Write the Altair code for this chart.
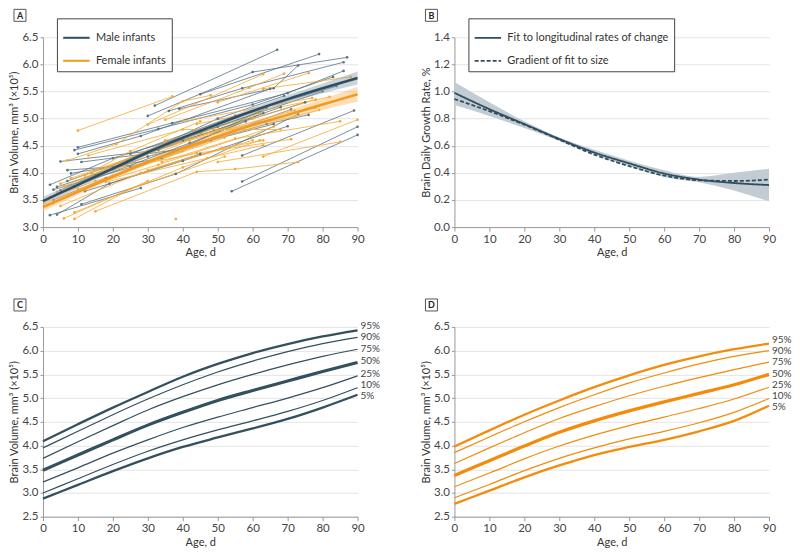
import altair as alt
import pandas as pd

FONT = "Lato"
MALE_C = "#2e4d5f"
FEMALE_C = "#f39a1e"

ages = [0, 10, 20, 30, 40, 50, 60, 70, 80, 90]

# ---- Panel A: mean fits with CI
male_mean = [3.48, 3.78, 4.08, 4.38, 4.65, 4.90, 5.14, 5.36, 5.56, 5.75]
male_half = [0.08, 0.06, 0.05, 0.05, 0.05, 0.05, 0.06, 0.07, 0.09, 0.12]
female_mean = [3.37, 3.65, 3.93, 4.20, 4.45, 4.67, 4.88, 5.07, 5.26, 5.45]
female_half = [0.08, 0.06, 0.05, 0.05, 0.05, 0.06, 0.07, 0.08, 0.10, 0.14]

# ---- Panel A: individual trajectories (age, volume)
male_traj = [
    [(32, 5.24), (67, 6.27)],
    [(45, 5.45), (79, 6.19)],
    [(30, 5.05), (60, 5.86), (87, 6.13)],
    [(39, 5.18), (66, 5.56), (73, 5.98)],
    [(36, 5.14), (57, 5.56), (86, 6.04)],
    [(10, 4.47), (37, 4.92), (70, 5.47), (86, 5.88)],
    [(9, 4.42), (33, 4.81), (60, 5.26), (83, 5.77)],
    [(10, 4.35), (28, 4.68), (65, 5.55)],
    [(11, 4.20), (38, 4.42), (64, 4.90), (76, 5.07)],
    [(5, 4.21), (33, 4.42), (68, 5.21)],
    [(8, 3.99), (34, 4.27), (64, 5.20)],
    [(7, 4.05), (28, 4.15), (63, 5.10)],
    [(2, 3.78), (20, 4.27), (50, 4.85)],
    [(3, 3.69), (25, 4.10), (71, 5.17)],
    [(4, 3.74), (30, 4.30), (66, 4.90)],
    [(12, 3.66), (40, 4.22), (70, 4.86)],
    [(11, 3.42), (38, 3.98), (73, 5.08)],
    [(2, 3.22), (28, 3.72)],
    [(4, 3.23), (19, 3.80), (45, 4.35)],
    [(54, 3.66), (90, 4.70)],
    [(57, 3.84), (90, 4.85)],
    [(57, 4.32), (89, 5.15)],
    [(5, 3.68), (35, 4.52), (62, 5.12)],
    [(7, 3.85), (40, 4.60), (75, 5.30)],
    [(15, 3.95), (45, 4.75), (80, 5.50)],
    [(20, 4.10), (50, 5.00), (69, 5.42)],
    [(3, 3.50), (18, 3.90), (48, 4.60)],
    [(9, 3.75), (42, 4.55), (58, 4.95)],
    [(25, 4.35), (55, 5.05), (84, 5.60)],
]
female_traj = [
    [(10, 4.78), (37, 5.41)],
    [(7, 4.23), (21, 4.53), (40, 5.32), (48, 5.43)],
    [(30, 4.89), (63, 5.82)],
    [(35, 4.98), (59, 5.57), (69, 5.83)],
    [(50, 5.30), (76, 5.84)],
    [(63, 5.55), (88, 5.77)],
    [(40, 4.95), (77, 5.38)],
    [(44, 4.90), (82, 5.40)],
    [(35, 4.60), (71, 5.02), (79, 5.16)],
    [(13, 4.32), (40, 4.80), (68, 4.80)],
    [(14, 3.98), (44, 4.36), (71, 4.62)],
    [(18, 3.83), (47, 4.27), (63, 4.51)],
    [(30, 4.05), (51, 4.45), (63, 4.60)],
    [(34, 4.20), (55, 4.63), (85, 4.95)],
    [(15, 3.29), (44, 4.02), (55, 4.07), (73, 4.20)],
    [(63, 4.30), (90, 4.98)],
    [(50, 4.20), (85, 4.57)],
    [(6, 3.16), (30, 3.85)],
    [(9, 3.15), (25, 3.70), (52, 4.30)],
    [(3, 3.44), (20, 3.95), (52, 4.65)],
    [(5, 3.39), (28, 4.00), (60, 4.60)],
    [(9, 3.27), (40, 4.10), (62, 4.60)],
    [(7, 3.59), (33, 4.25), (55, 4.75)],
    [(4, 3.65), (22, 4.20), (50, 4.90)],
    [(6, 3.75), (30, 4.40), (62, 5.10)],
    [(8, 3.90), (35, 4.50), (72, 5.15)],
    [(12, 3.95), (25, 4.40), (45, 4.95)],
    [(2, 3.55), (15, 3.85), (40, 4.40)],
    [(20, 4.05), (42, 4.60), (78, 5.20)],
    [(25, 4.25), (60, 5.00), (78, 5.35)],
    [(10, 3.70), (33, 4.15), (66, 4.85)],
    [(38, 3.15)],
    [(5, 3.80), (18, 4.10), (35, 4.55)],
]

# ---- Panel B
rate_fit = [0.99, 0.87, 0.76, 0.65, 0.55, 0.47, 0.395, 0.35, 0.325, 0.31]
rate_grad = [0.945, 0.855, 0.755, 0.645, 0.535, 0.45, 0.38, 0.345, 0.34, 0.35]
rate_lo = [0.90, 0.82, 0.73, 0.635, 0.535, 0.45, 0.37, 0.33, 0.27, 0.19]
rate_hi = [1.07, 0.92, 0.78, 0.66, 0.57, 0.49, 0.42, 0.37, 0.40, 0.43]

# ---- Panels C, D: percentile curves
pct_labels = ["95%", "90%", "75%", "50%", "25%", "10%", "5%"]
male_pct = [
    [4.09, 4.45, 4.80, 5.13, 5.45, 5.72, 5.95, 6.14, 6.30, 6.43],
    [3.95, 4.30, 4.65, 4.98, 5.28, 5.55, 5.78, 5.98, 6.15, 6.28],
    [3.73, 4.08, 4.42, 4.75, 5.03, 5.28, 5.50, 5.70, 5.88, 6.03],
    [3.48, 3.80, 4.12, 4.43, 4.70, 4.95, 5.16, 5.36, 5.56, 5.75],
    [3.23, 3.53, 3.84, 4.12, 4.38, 4.60, 4.80, 5.00, 5.22, 5.47],
    [3.00, 3.30, 3.60, 3.88, 4.12, 4.33, 4.52, 4.72, 4.95, 5.22],
    [2.88, 3.17, 3.46, 3.73, 3.97, 4.17, 4.36, 4.56, 4.80, 5.07],
]
female_pct = [
    [3.98, 4.32, 4.65, 4.95, 5.23, 5.48, 5.70, 5.88, 6.03, 6.15],
    [3.85, 4.18, 4.50, 4.80, 5.07, 5.32, 5.53, 5.72, 5.88, 6.00],
    [3.62, 3.95, 4.27, 4.57, 4.82, 5.05, 5.25, 5.43, 5.60, 5.76],
    [3.37, 3.68, 3.99, 4.28, 4.52, 4.73, 4.92, 5.10, 5.28, 5.50],
    [3.13, 3.42, 3.72, 3.99, 4.22, 4.42, 4.60, 4.78, 4.98, 5.23],
    [2.90, 3.18, 3.47, 3.73, 3.95, 4.14, 4.30, 4.48, 4.70, 4.99],
    [2.77, 3.05, 3.33, 3.58, 3.80, 3.97, 4.12, 4.30, 4.52, 4.84],
]

W, H = 315, 190
GAP_X, GAP_Y = 97, 100
VOL_TITLE = "Brain Volume, mm\u00b3 (\u00d710\u2075)"
SEX = ["Male infants", "Female infants"]
X_TICKS = list(range(0, 91, 10))

x_enc = alt.X("age:Q", scale=alt.Scale(domain=[0, 90], nice=False),
              axis=alt.Axis(values=X_TICKS, tickCount=len(X_TICKS), grid=False, title="Age, d",
                            tickSize=4, labelOverlap=False, labelFlush=False))


def y_axis(vals, title):
    return alt.Axis(values=vals, tickCount=len(vals), format=".1f", title=title, tickSize=3,
                    grid=True, labelOverlap=False, labelFlush=False)


def badge(letter):
    d = pd.DataFrame({"t": [letter]})
    box = alt.Chart(d).mark_rect(fill="white", stroke="#555", strokeWidth=1).encode(
        x=alt.value(-29), x2=alt.value(-17), y=alt.value(-28), y2=alt.value(-16))
    txt = alt.Chart(d).mark_text(fontWeight="bold", fontSize=9, color="#222",
                                 baseline="middle", align="center").encode(
        x=alt.value(-23), y=alt.value(-21.5), text="t:N")
    return box, txt


def legend_at(x, y, **kw):
    return alt.Legend(title=None, orient="none", legendX=x, legendY=y,
                      symbolType="stroke", symbolSize=700, strokeColor="#444",
                      fillColor="white", padding=5, labelFontSize=11, labelColor="#333",
                      rowPadding=3, labelOffset=5, labelLimit=400, **kw)


# ---------- Panel A
rows = []
for sex, trajs in (("Male infants", male_traj), ("Female infants", female_traj)):
    for i, tr in enumerate(trajs):
        for a, v in tr:
            rows.append({"id": f"{sex}{i}", "sex": sex, "age": a, "vol": v})
traj_df = pd.DataFrame(rows)

mrows = []
for sex, m, h in (("Male infants", male_mean, male_half), ("Female infants", female_mean, female_half)):
    for a, mv, hv in zip(ages, m, h):
        mrows.append({"sex": sex, "age": a, "vol": mv, "lo": mv - hv, "hi": mv + hv})
mean_df = pd.DataFrame(mrows)

yA = alt.Y("vol:Q", scale=alt.Scale(domain=[3, 6.5], nice=False, zero=False),
           axis=y_axis([3.0, 3.5, 4.0, 4.5, 5.0, 5.5, 6.0, 6.5], VOL_TITLE))
col_scale = alt.Scale(domain=SEX, range=[MALE_C, FEMALE_C])
ind_scale = alt.Scale(domain=SEX, range=["#587485", "#f6a934"])

traj_lines = alt.Chart(traj_df).mark_line(strokeWidth=1, opacity=0.8).encode(
    x=x_enc, y=yA, detail="id:N",
    color=alt.Color("sex:N", scale=ind_scale, legend=None), order="age:Q")
traj_pts = alt.Chart(traj_df).mark_circle(size=7, opacity=1).encode(
    x="age:Q", y="vol:Q", color=alt.Color("sex:N", scale=ind_scale, legend=None))
bands = alt.Chart(mean_df).mark_area(opacity=0.45, interpolate="monotone").encode(
    x="age:Q", y="lo:Q", y2="hi:Q",
    fill=alt.Fill("sex:N", scale=alt.Scale(domain=SEX, range=["#8a9eab", "#f8b860"]), legend=None),
    detail="sex:N")
means = alt.Chart(mean_df).mark_line(strokeWidth=2.5, interpolate="monotone").encode(
    x="age:Q", y="vol:Q",
    color=alt.Color("sex:N", scale=col_scale, sort=SEX,
                    legend=legend_at(14, -19, symbolStrokeWidth=2)))
bA = badge("A")
panelA = alt.layer(traj_lines, traj_pts, bands, means, bA[0], bA[1]).resolve_scale(
    color="independent").properties(width=W, height=H)

# ---------- Panel B
FIT = "Fit to longitudinal rates of change"
GRAD = "Gradient of fit to size"
b_df = pd.DataFrame({"age": ages * 2, "rate": rate_fit + rate_grad,
                     "kind": [FIT] * 10 + [GRAD] * 10})
band_df = pd.DataFrame({"age": ages, "lo": rate_lo, "hi": rate_hi})
B_TICKS = [0.0, 0.2, 0.4, 0.6, 0.8, 1.0, 1.2, 1.4]
b_band = alt.Chart(band_df).mark_area(color="#c3ccd3", opacity=1, interpolate="monotone").encode(
    x=x_enc, y=alt.Y("lo:Q", scale=alt.Scale(domain=[0, 1.4], nice=False),
                     axis=y_axis(B_TICKS, "Brain Daily Growth Rate, %")),
    y2="hi:Q")
b_lines = alt.Chart(b_df).mark_line(color=MALE_C, strokeWidth=1.8, interpolate="monotone").encode(
    x="age:Q", y="rate:Q",
    strokeDash=alt.StrokeDash("kind:N", scale=alt.Scale(domain=[FIT, GRAD], range=[[1, 0], [4, 2]]),
                              legend=legend_at(W + GAP_X + 14, -19, symbolStrokeWidth=1.8,
                                               symbolStrokeColor=MALE_C)))
bB = badge("B")
panelB = alt.layer(b_band, b_lines, bB[0], bB[1]).properties(width=W, height=H)


# ---------- Panels C, D
DY_C = {"95%": -3.8, "90%": 0.0, "75%": -0.5, "50%": -1.2, "25%": -1.9, "10%": -2.8, "5%": 1.1}
DY_D = {"95%": -3.1, "90%": 0.75, "75%": 0.35, "50%": -0.5, "25%": -1.8, "10%": -2.2, "5%": 1.65}
THICK = {"95%": 2.3, "90%": 1.2, "75%": 1.2, "50%": 3.2, "25%": 1.2, "10%": 1.2, "5%": 2.3}
C_TICKS = [2.5, 3.0, 3.5, 4.0, 4.5, 5.0, 5.5, 6.0, 6.5]


def pct_panel(values, color, letter, dys):
    r = []
    for lab, vals in zip(pct_labels, values):
        for a, v in zip(ages, vals):
            r.append({"pct": lab, "age": a, "vol": v})
    df = pd.DataFrame(r)
    yC = alt.Y("vol:Q", scale=alt.Scale(domain=[2.5, 6.5], nice=False, zero=False),
               axis=y_axis(C_TICKS, VOL_TITLE))
    base = alt.Chart(df)
    layers = []
    first = True
    for lab in pct_labels:
        ln = base.mark_line(color=color, interpolate="monotone", strokeWidth=THICK[lab]).encode(
            x=x_enc if first else "age:Q", y=yC if first else "vol:Q").transform_filter(
            alt.datum.pct == lab)
        first = False
        layers.append(ln)
    for lab in pct_labels:
        tx = base.mark_text(align="left", dx=3, dy=dys[lab], fontSize=10, color="#444",
                            baseline="middle").encode(
            x="age:Q", y="vol:Q", text="pct:N").transform_filter(
            (alt.datum.pct == lab) & (alt.datum.age == 90))
        layers.append(tx)
    b = badge(letter)
    return alt.layer(*layers, b[0], b[1]).properties(width=W, height=H)


panelC = pct_panel(male_pct, "#33505f", "C", DY_C)
panelD = pct_panel(female_pct, "#f28c0a", "D", DY_D)

chart = alt.concat(panelA, panelB, panelC, panelD, columns=2,
                   spacing={"row": GAP_Y, "column": GAP_X}, bounds="flush").properties(
    padding={"left": 0, "top": 0, "right": 0, "bottom": 0}
).configure(font=FONT).configure_view(stroke=None).configure_axis(
    labelFontSize=11.5, titleFontSize=11, labelColor="#444", titleColor="#333",
    domainColor="#999", tickColor="#999", gridColor="#e4e4e4", titleFontWeight="normal",
    labelPadding=2, titlePadding=2
)

chart.save("out.html", embed_options={"renderer": "svg", "actions": False})
